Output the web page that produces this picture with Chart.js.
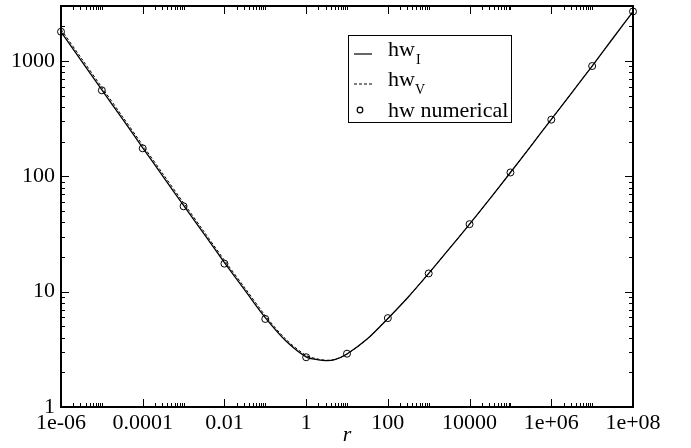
<!DOCTYPE html>
<html>
<head>
<meta charset="utf-8">
<script src="https://cdn.jsdelivr.net/npm/chart.js@4.4.0/dist/chart.umd.min.js"></script>
<style>
  body { margin: 0; background: #fff; }
  #wrap { width: 691px; height: 448px; }
</style>
</head>
<body>
<div id="wrap"><canvas id="hwChart" width="691" height="448"></canvas></div>
<script>
// curve sample points (r) and values
var rCurve = [1e-6, 3.16e-6, 1e-5, 3.16e-5, 1e-4, 3.16e-4, 1e-3, 3.16e-3, 0.01, 0.0316, 0.1, 0.316,
              1, 2, 3.16, 5, 10, 31.6, 100, 316, 1000, 3162, 1e4, 3.16e4, 1e5, 3.16e5, 1e6, 3.16e6, 1e7, 3.16e7, 1e8];
var hwI = [1790, 1005, 563, 316, 177, 99.5, 56, 31.7, 17.9, 10.3, 5.95, 3.75,
           2.72, 2.56, 2.52, 2.57, 2.88, 3.9, 5.85, 9.0, 14.4, 23.5, 38.5, 64, 108, 183, 312, 530, 905, 1560, 2680];
var hwV = [1880, 1055, 591, 332, 186, 104.5, 58.8, 33.2, 18.7, 10.8, 6.2, 3.88,
           2.8, 2.6, 2.54, 2.58, 2.88, 3.9, 5.85, 9.0, 14.4, 23.5, 38.5, 64, 108, 183, 312, 530, 905, 1560, 2680];

// numerical points
var rNum = [1e-6, 1e-5, 1e-4, 1e-3, 0.01, 0.1, 1, 10, 100, 1000, 1e4, 1e5, 1e6, 1e7, 1e8];
var hwNum = [1795, 557, 175, 55, 17.5, 5.8, 2.7, 2.9, 5.9, 14.4, 38.5, 108, 310, 905, 2690];

// ticks
var xTicks = [1e-6, 1e-4, 1e-2, 1, 1e2, 1e4, 1e6, 1e8];
var xTickLabels = ['1e-06', '0.0001', '0.01', '1', '100', '10000', '1e+06', '1e+08'];
var yTicks = [1, 10, 100, 1000];
var yTickLabels = ['1', '10', '100', '1000'];

var FONT = 'Liberation Serif';

function pts(xs, ys) {
    return xs.map(function(x, i) { return { x: x, y: ys[i] }; });
}

// inward ticks, frame and legend (Grace style)
var gracePlugin = {
    id: 'grace',
    afterDraw: function(chart) {
        var c = chart.ctx, a = chart.chartArea;
        var xs = chart.scales.x, ys = chart.scales.y;
        c.save();
        c.strokeStyle = '#000';
        c.lineWidth = 1;
        c.beginPath();
        // x major + minor ticks
        xTicks.forEach(function(v, i) {
            var px = Math.round(xs.getPixelForValue(v)) + 0.5;
            c.moveTo(px, a.bottom); c.lineTo(px, a.bottom - 8);
            c.moveTo(px, a.top); c.lineTo(px, a.top + 8);
            if (i < xTicks.length - 1) {
                for (var k = 2; k <= 10; k++) {
                    var mx = Math.round(xs.getPixelForValue(v * k)) + 0.5;
                    c.moveTo(mx, a.bottom); c.lineTo(mx, a.bottom - 4);
                    c.moveTo(mx, a.top); c.lineTo(mx, a.top + 4);
                }
            }
        });
        // y major + minor ticks
        yTicks.forEach(function(v) {
            var py = Math.round(ys.getPixelForValue(v)) + 0.5;
            c.moveTo(a.left, py); c.lineTo(a.left + 8, py);
            c.moveTo(a.right, py); c.lineTo(a.right - 8, py);
            for (var k = 2; k <= 9; k++) {
                if (v * k > ys.max) break;
                var my = Math.round(ys.getPixelForValue(v * k)) + 0.5;
                c.moveTo(a.left, my); c.lineTo(a.left + 4, my);
                c.moveTo(a.right, my); c.lineTo(a.right - 4, my);
            }
        });
        c.stroke();
        // frame
        c.lineWidth = 2;
        c.strokeRect(a.left, a.top, a.right - a.left, a.bottom - a.top);

        // legend
        c.lineWidth = 1;
        c.fillStyle = '#fff';
        c.fillRect(348.5, 35.5, 163, 87);
        c.strokeRect(348.5, 35.5, 163, 87);
        c.fillStyle = '#000';
        c.textBaseline = 'alphabetic';
        c.textAlign = 'left';
        var ds = chart.data.datasets;
        // row 1 : solid
        c.lineWidth = 1.2;
        c.setLineDash([]);
        c.beginPath(); c.moveTo(354, 54); c.lineTo(372, 54); c.stroke();
        c.font = '22px "' + FONT + '"';
        c.fillText('hw', 388, 56);
        var w = c.measureText('hw').width;
        c.font = '14px "' + FONT + '"';
        c.fillText('I', 388 + w + 1, 64);
        // row 2 : dashed
        c.setLineDash([3, 2]);
        c.beginPath(); c.moveTo(354, 84); c.lineTo(372, 84); c.stroke();
        c.setLineDash([]);
        c.font = '22px "' + FONT + '"';
        c.fillText('hw', 388, 86);
        c.font = '14px "' + FONT + '"';
        c.fillText('V', 388 + w, 94);
        // row 3 : circle
        c.beginPath(); c.arc(360, 110, 2.8, 0, Math.PI * 2); c.stroke();
        c.font = '22px "' + FONT + '"';
        c.fillText(ds[2].label, 388, 117);
        c.restore();
    }
};

var ctx = document.getElementById('hwChart').getContext('2d');
var hwChart = new Chart(ctx, {
    type: 'line',
    data: {
        datasets: [{
            label: 'hwI',
            data: pts(rCurve, hwI),
            borderColor: '#000',
            borderWidth: 1.3,
            pointRadius: 0,
            tension: 0.3,
            fill: false
        }, {
            label: 'hwV',
            data: pts(rCurve, hwV),
            borderColor: '#000',
            borderWidth: 1,
            borderDash: [3, 2],
            pointRadius: 0,
            tension: 0.3,
            fill: false
        }, {
            label: 'hw numerical',
            data: pts(rNum, hwNum),
            showLine: false,
            pointRadius: 3.5,
            pointBorderWidth: 1,
            pointBorderColor: '#000',
            pointBackgroundColor: 'rgba(0,0,0,0)',
            clip: false
        }]
    },
    options: {
        responsive: false,
        animation: false,
        layout: { padding: { top: 6, right: 58, left: 0, bottom: 0 } },
        plugins: {
            legend: { display: false },
            tooltip: { enabled: false }
        },
        scales: {
            x: {
                type: 'logarithmic',
                min: 1e-6,
                max: 1e8,
                grid: { display: false, drawTicks: false },
                border: { display: false },
                afterBuildTicks: function(scale) {
                    scale.ticks = xTicks.map(function(v) { return { value: v }; });
                },
                afterFit: function(scale) {
                    scale.height = 41;
                    scale.paddingLeft = 0;
                    scale.paddingRight = 0;
                },
                ticks: {
                    autoSkip: false,
                    maxRotation: 0,
                    padding: 3,
                    color: '#000',
                    font: { family: FONT, size: 22 },
                    callback: function(value, index) { return xTickLabels[index]; }
                },
                title: {
                    display: true,
                    text: 'r',
                    color: '#000',
                    padding: { top: 0, bottom: 0 },
                    font: { family: FONT, size: 22, style: 'italic' }
                }
            },
            y: {
                type: 'logarithmic',
                min: 1,
                max: 3000,
                grid: { display: false, drawTicks: false },
                border: { display: false },
                afterBuildTicks: function(scale) {
                    scale.ticks = yTicks.map(function(v) { return { value: v }; });
                },
                afterFit: function(scale) {
                    scale.width = 61;
                    scale.paddingTop = 0;
                    scale.paddingBottom = 0;
                },
                ticks: {
                    autoSkip: false,
                    padding: 6,
                    color: '#000',
                    font: { family: FONT, size: 22 },
                    callback: function(value, index) { return yTickLabels[index]; }
                }
            }
        }
    },
    plugins: [gracePlugin]
});
</script>
</body>
</html>
